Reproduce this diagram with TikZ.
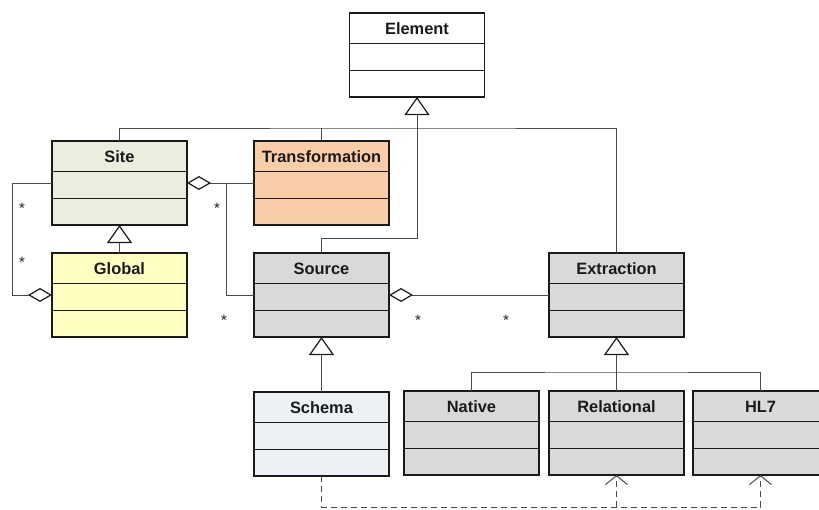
\documentclass[tikz,border=0pt]{standalone}
\usepackage{fontspec}
\setmainfont{Liberation Sans}
\usetikzlibrary{arrows.meta}

\definecolor{sitefill}{HTML}{EBEEDF}
\definecolor{transfill}{HTML}{F9CDA8}
\definecolor{globalfill}{HTML}{FFFFC2}
\definecolor{grayfill}{HTML}{D9D9D9}
\definecolor{schemafill}{HTML}{EDF0F5}
\definecolor{wire}{HTML}{4A4A4A}
\definecolor{ink}{HTML}{1A1A1A}

\tikzset{
  classbox/.style={draw=ink, line width=1.4pt, minimum width=135pt, minimum height=84pt,
    inner sep=0pt, outer sep=0pt},
  divider/.style={draw=ink, line width=1.4pt},
  classtitle/.style={font=\fontsize{16.4}{18}\selectfont\bfseries, text=ink, inner sep=0pt, anchor=base},
  wireline/.style={draw=wire, line width=1pt},
  gen/.style={wireline, -{Triangle[length=18pt, width=25pt, fill=white, color=ink, line width=1.2pt]}},
  agg/.style={wireline, -{Diamond[length=24pt, width=14pt, fill=white, color=ink, line width=1.2pt]}},
  dep/.style={wireline, dash pattern=on 6pt off 4pt,
    -{Straight Barb[length=9pt, width=22pt, color=wire, line width=1pt]}},
  mult/.style={font=\fontsize{15}{16}\selectfont, text=ink, inner sep=0pt},
}

% UML class: name, centre x, top y, fill, title
\newcommand\umlclass[5]{%
  \node[classbox, fill=#4, anchor=north] (#1) at (#2,#3) {};
  \draw[divider] ([yshift=-30.5pt]#1.north west) -- ([yshift=-30.5pt]#1.north east);
  \draw[divider] ([yshift=-57.5pt]#1.north west) -- ([yshift=-57.5pt]#1.north east);
  \node[classtitle] (#1-title) at ([yshift=-21.5pt]#1.north) {#5};
}

\begin{document}
\begin{tikzpicture}[x=1pt, y=-1pt]
  \path[use as bounding box] (0,0) rectangle (819,509);
  \clip (0,0) rectangle (819,509);

  % classes
  \umlclass{element}{417}{13}{white}{Element}
  \umlclass{site}{119.5}{141}{sitefill}{Site}
  \umlclass{transformation}{321.5}{141}{transfill}{Transformation}
  \umlclass{global}{119.5}{253}{globalfill}{Global}
  \umlclass{source}{321.5}{253}{grayfill}{Source}
  \umlclass{extraction}{616.5}{253}{grayfill}{Extraction}
  \umlclass{schema}{321.5}{392}{schemafill}{Schema}
  \umlclass{native}{471.5}{391}{grayfill}{Native}
  \umlclass{relational}{616.5}{391}{grayfill}{Relational}
  \umlclass{hl7}{760.5}{391}{grayfill}{HL7}

  % junction points of the connector trees
  \coordinate (tree) at (417,128);
  \coordinate (etree) at (617,372);
  \coordinate (depbase) at (0,507);
  \path (site.east) ++(39,0) coordinate (jn);

  % generalisation to Element
  \draw[wireline] (site.north) |- (tree) -| (extraction.north);
  \draw[wireline] (transformation.north) -- (transformation.north |- tree);
  \draw[gen] (source.north) -- ++(0,-15) -| (element.south);

  % other generalisations
  \draw[gen] (global.north) -- (site.south);
  \draw[gen] (schema.north) -- (source.south);
  \draw[wireline] (native.north) |- (etree) -| (hl7.north);
  \draw[gen] (relational.north) -- (extraction.south);

  % aggregations
  \draw[agg] (transformation.west) -- (site.east);
  \draw[wireline] (source.west) -| (jn);
  \draw[agg] (site.west) -- ++(-40,0) |- (global.west);
  \draw[agg] (extraction.west) -- (source.east);

  % multiplicities
  \node[mult] (m1) at (22,208) {*};
  \node[mult] (m2) at (22,262) {*};
  \node[mult] (m3) at (217,208) {*};
  \node[mult] (m4) at (224,320) {*};
  \node[mult] (m5) at (418,320) {*};
  \node[mult] (m6) at (506,320) {*};

  % dependencies
  \draw[dep] (schema.south) -- (schema.south |- depbase) -| (hl7.south);
  \draw[dep] (relational.south |- depbase) -- (relational.south);
\end{tikzpicture}
\end{document}
